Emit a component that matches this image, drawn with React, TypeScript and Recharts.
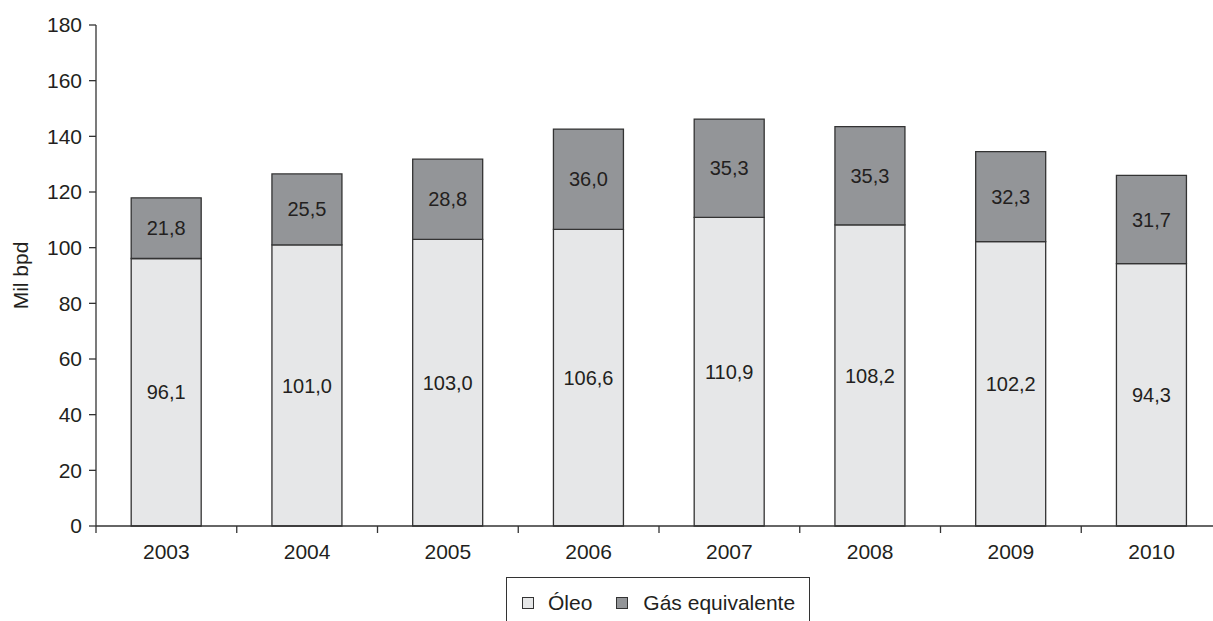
import React from 'react';
import { BarChart, Bar, XAxis, YAxis, Legend, LabelList, Label } from 'recharts';

const years = ['2003', '2004', '2005', '2006', '2007', '2008', '2009', '2010'];
const oleo = [96.1, 101.0, 103.0, 106.6, 110.9, 108.2, 102.2, 94.3];
const gas = [21.8, 25.5, 28.8, 36.0, 35.3, 35.3, 32.3, 31.7];
const yTicks = [0, 20, 40, 60, 80, 100, 120, 140, 160, 180];

const data = years.map((year, i) => ({ year, oleo: oleo[i], gas: gas[i] }));

const FONT = '"Liberation Sans", Arial, sans-serif';
const TEXT = '#231f20';
const LINE = '#333333';
const LIGHT = '#e6e7e8';
const DARK = '#939598';

const fmt = (v: any) => Number(v).toFixed(1).replace('.', ',');

// tick mark sits on the left edge of each category, label in the middle
const XTick = ({ x, y, payload }: any) => {
  const half = payload?.offset ?? 70.4;
  return (
    <g>
      <line x1={x - half} x2={x - half} y1={y} y2={y + 7} stroke={LINE} strokeWidth={1.3} />
      <text x={x} y={y + 33} textAnchor="middle" fill={TEXT} fontSize={21} fontFamily={FONT}>
        {payload.value}
      </text>
    </g>
  );
};

const LegendBox = () => (
  <div
    style={{
      border: `1.3px solid ${LINE}`,
      height: 52,
      boxSizing: 'border-box',
      display: 'flex',
      alignItems: 'center',
      padding: '0 0 0 15px',
      fontFamily: FONT,
      fontSize: 21,
      color: TEXT,
    }}
  >
    <span style={{ width: 10, height: 10, background: LIGHT, border: `1px solid ${LINE}`, marginRight: 14 }} />
    <span style={{ marginRight: 24 }}>Óleo</span>
    <span style={{ width: 10, height: 10, background: DARK, border: `1px solid ${LINE}`, marginRight: 15 }} />
    <span>Gás equivalente</span>
  </div>
);

export default function App() {
  return (
    <div style={{ position: 'absolute', top: 0, left: 0, width: 1213, height: 621, overflow: 'hidden', background: '#fff' }}>
      <BarChart
        width={1240}
        height={621}
        data={data}
        margin={{ top: 25, right: 18, left: 0, bottom: 0 }}
        barCategoryGap="25%"
      >
        <YAxis
          width={96}
          domain={[0, 180]}
          ticks={yTicks}
          interval={0}
          tickSize={7}
          tickMargin={7}
          stroke={LINE}
          strokeWidth={1.3}
          tick={{ fill: TEXT, fontSize: 21, fontFamily: FONT }}
        >
          <Label
            content={({ viewBox }: any) => {
              const cy = viewBox.y + viewBox.height / 2;
              return (
                <text
                  x={20}
                  y={cy}
                  transform={`rotate(-90, 20, ${cy})`}
                  textAnchor="middle"
                  dominantBaseline="central"
                  fill={TEXT}
                  fontSize={21}
                  fontFamily={FONT}
                >
                  Mil bpd
                </text>
              );
            }}
          />
        </YAxis>
        <XAxis
          dataKey="year"
          height={43}
          tickSize={0}
          tickMargin={0}
          tickLine={false}
          interval={0}
          stroke={LINE}
          strokeWidth={1.3}
          tick={<XTick />}
        />
        <Legend
          content={<LegendBox />}
          wrapperStyle={{ top: 577, left: 506, width: 304, height: 52 }}
        />
        <Bar dataKey="oleo" name="Óleo" stackId="a" fill={LIGHT} stroke={LINE} strokeWidth={1.3} isAnimationActive={false}>
          <LabelList dataKey="oleo" position="center" formatter={fmt} fill={TEXT} fontSize={20} fontFamily={FONT} />
        </Bar>
        <Bar dataKey="gas" name="Gás equivalente" stackId="a" fill={DARK} stroke={LINE} strokeWidth={1.3} isAnimationActive={false}>
          <LabelList dataKey="gas" position="center" formatter={fmt} fill={TEXT} fontSize={20} fontFamily={FONT} />
        </Bar>
      </BarChart>
    </div>
  );
}
